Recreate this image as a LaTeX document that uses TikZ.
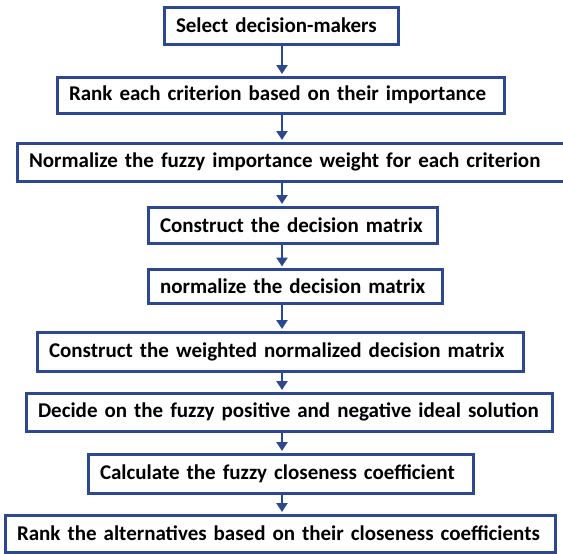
\documentclass[tikz,border=0pt]{standalone}
\usepackage{fontspec}
\setmainfont{Carlito}
\usetikzlibrary{arrows.meta}
\definecolor{flowblue}{RGB}{44,72,145}
\tikzset{
  stepbox/.style={draw=flowblue, line width=3pt, fill=white, rectangle,
    inner xsep=12pt, inner ysep=0pt, align=left, font=\bfseries\fontsize{21}{24}\selectfont,
    anchor=center},
  flowarrow/.style={draw=flowblue, line width=2.6pt,
    -{Triangle[length=9pt,width=11pt]}}
}
\newcommand{\stepnode}[6]{% name, cx, cy, width, height, text
  \node[stepbox, text width=#4pt-24pt, minimum height=#5pt] (#1) at (#2,#3) {#6};}
\begin{document}
\begin{tikzpicture}[x=1pt,y=-1pt]
  \useasboundingbox (0,0) rectangle (563,554);
  \clip (0,0) rectangle (563,554);
  \fill[white] (0,0) rectangle (563,554);
  \coordinate (axis) at (282,0);
  \stepnode{s1}{281}{25.5}{234}{37}{Select decision-makers}
  \stepnode{s2}{280.5}{95}{447}{36}{Rank each criterion based on their importance}
  \stepnode{s3}{296}{162}{558}{38}{Normalize the fuzzy importance weight for each criterion}
  \stepnode{s4}{292.5}{225}{289}{36}{Construct the decision matrix}
  \stepnode{s5}{295}{286.5}{294}{34}{normalize the decision matrix}
  \stepnode{s6}{280}{351.5}{486}{39}{Construct the weighted normalized decision matrix}
  \stepnode{s7}{289}{412}{526}{38}{Decide on the fuzzy positive and negative ideal solution}
  \stepnode{s8}{280.5}{473.5}{385}{39}{Calculate the fuzzy closeness coefficient}
  \stepnode{s9}{280}{533.5}{550}{37}{Rank the alternatives based on their closeness coefficients}
  \foreach \a/\b in {s1/s2,s2/s3,s3/s4,s4/s5,s5/s6,s6/s7,s7/s8,s8/s9}
    \draw[flowarrow] (\a.south -| axis) -- ([yshift=1.5pt]\b.north -| axis);
\end{tikzpicture}
\end{document}
